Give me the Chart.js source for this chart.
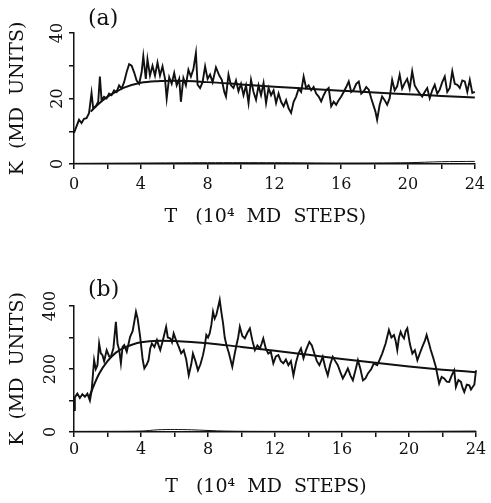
<!DOCTYPE html>
<html><head><meta charset="utf-8">
<script src="https://cdn.jsdelivr.net/npm/chart.js@4"></script>
<style>
html,body{margin:0;padding:0;background:#fff;}
#wrap{position:relative;width:491px;height:503px;background:#fff;}
canvas{position:absolute;left:0;}
</style></head><body>
<div id="wrap">
<canvas id="ca" width="491" height="250" style="top:0px"></canvas>
<canvas id="cb" width="491" height="253" style="top:250px"></canvas>
</div>
<script>
// ---------- Panel (a) ----------
const tA = [0,0.15,0.3,0.45,0.6,0.75,0.9,1.05,1.15,1.3,
  1.45,1.55,1.65,1.8,1.95,2.1,2.25,2.4,2.55,2.7,
  2.85,3.0,3.15,3.3,3.45,3.6,3.75,3.9,4.05,4.15,
  4.3,4.4,4.55,4.7,4.85,5.0,5.15,5.3,5.45,5.55,
  5.7,5.85,6.0,6.15,6.3,6.4,6.55,6.7,6.85,7.0,
  7.15,7.3,7.4,7.55,7.7,7.85,8.0,8.15,8.3,8.5,
  8.7,8.85,9.0,9.1,9.25,9.4,9.55,9.7,9.85,10.0,
  10.15,10.3,10.45,10.6,10.75,10.9,11.05,11.2,11.35,11.5,
  11.65,11.8,11.95,12.1,12.25,12.4,12.55,12.7,12.85,13.0,
  13.15,13.3,13.45,13.6,13.75,13.9,14.05,14.2,14.35,14.5,
  14.65,14.8,14.95,15.1,15.25,15.4,15.55,15.7,15.85,16.0,
  16.15,16.3,16.45,16.6,16.75,16.9,17.05,17.2,17.35,17.5,
  17.65,17.8,17.95,18.05,18.15,18.3,18.45,18.6,18.75,18.9,
  19.05,19.2,19.35,19.5,19.65,19.8,19.95,20.1,20.25,20.4,
  20.55,20.7,20.85,21.0,21.15,21.3,21.45,21.6,21.75,21.9,
  22.05,22.2,22.35,22.5,22.65,22.8,22.95,23.1,23.25,23.4,
  23.55,23.7,23.85,24.0];
const kA = [9.5,11.5,13.5,12.5,13.8,14,15.5,21.7,17,17.6,
  19,26.7,19.5,20.5,20,21.5,21,22.5,22,24,
  23,25,28,30.5,30,28,25.5,24.5,28,32.9,
  26,32,27,30,27,31,27,29.8,26,20,
  26.5,24.5,27.8,24,26,19,26.2,24,28.8,26.7,
  29,33.9,24.2,23.2,25,29.8,26,27.3,25,29.5,
  27,25.7,22,20.6,27.3,24,23.2,25.5,22.2,24.5,
  21,24,18.6,25.7,22,19.6,24,21,24.7,18.6,
  23.2,21,22.5,18.6,21.5,19,17.6,19.5,17,15.6,
  19,20.6,23,22,26.7,23.2,24,22.5,23.5,21.5,
  20.6,19.1,21,22.5,23.2,17.6,19,18.1,19.5,20.6,
  22,23.5,25.2,22,22.7,24.5,25.2,21.5,22.2,23.5,
  22.7,20,17.6,16,13.5,18,20.6,19.5,18.1,20.1,
  25.7,22.5,23.7,27.3,23,24.7,26,23,28.3,24,
  22.7,21.5,20.6,22,23.2,20.1,22.5,24.2,21.5,22.7,
  25,26.7,22,23.2,28.3,24.5,24.2,23.2,25.5,25.2,
  22,25.7,21.7,22];
const tSmoothA = [1,1.5,2,2.5,3,4,5,6,8,10,12,14,16,18,20,22,24];
const kSmoothA = [16,18.5,20.5,22,23.3,24.8,25.3,25.4,25,24.3,23.6,23,22.4,21.8,21.3,20.8,20.3];
const tLowA = [0,4,8,12,16,20,22,24];
const kLowA = [0.2,0.3,0.4,0.4,0.3,0.4,0.7,0.8];
const yLabelsA = [0,20,40];

// ---------- Panel (b) ----------
const tB = [0,0.05,0.2,0.35,0.5,0.65,0.8,0.95,1.05,1.2,
  1.3,1.4,1.5,1.6,1.7,1.8,1.95,2.1,2.2,2.35,
  2.5,2.6,2.7,2.8,2.9,3.0,3.15,3.35,3.5,3.6,
  3.7,3.8,3.95,4.1,4.2,4.35,4.45,4.55,4.65,4.8,
  4.95,5.05,5.15,5.3,5.5,5.6,5.75,5.85,5.95,6.1,
  6.25,6.4,6.55,6.7,6.85,7.0,7.1,7.25,7.4,7.55,
  7.7,7.8,7.9,8.0,8.1,8.2,8.3,8.4,8.5,8.6,
  8.7,8.8,8.9,9.0,9.1,9.25,9.45,9.6,9.7,9.8,
  9.9,10.05,10.2,10.35,10.5,10.65,10.8,10.95,11.1,11.2,
  11.3,11.45,11.6,11.75,11.9,12.05,12.2,12.35,12.5,12.65,
  12.8,12.95,13.1,13.25,13.4,13.55,13.7,13.85,14.05,14.2,
  14.35,14.5,14.65,14.75,14.85,15.0,15.15,15.3,15.45,15.6,
  15.75,15.9,16.05,16.2,16.35,16.5,16.65,16.8,16.95,17.1,
  17.25,17.4,17.55,17.75,17.9,18.1,18.25,18.4,18.6,18.8,
  18.95,19.1,19.2,19.3,19.4,19.5,19.6,19.7,19.8,19.9,
  20.05,20.2,20.35,20.5,20.65,20.8,20.95,21.05,21.2,21.3,
  21.45,21.6,21.7,21.8,21.95,22.1,22.25,22.4,22.55,22.7,
  22.8,22.95,23.1,23.2,23.3,23.45,23.6,23.7,23.8,23.9,
  24.0];
const kB = [70,110,122,108,120,112,122,100,130,228,
  200,212,281,250,244,225,260,240,239,265,
  350,280,260,218,270,276,255,302,320,350,
  382,360,302,230,202,215,228,265,281,270,
  292,275,260,290,334,300,297,285,313,290,
  271,250,260,230,180,215,249,225,196,215,
  244,270,308,300,313,340,382,360,372,395,
  419,380,345,300,276,250,207,250,276,300,
  334,305,297,315,329,290,260,275,265,280,
  297,265,249,255,218,240,244,225,218,230,
  212,225,180,220,249,265,234,260,286,275,
  249,225,212,225,239,205,180,215,239,225,
  212,190,170,185,202,180,164,195,228,200,
  164,170,186,200,218,212,230,249,280,324,
  300,308,290,260,300,318,305,297,320,329,
  280,249,260,228,250,271,290,308,280,260,
  235,207,180,154,175,170,160,159,180,196,
  143,165,159,140,127,150,148,135,143,150,
  196];
const tSmoothB = [0.9,1.2,1.5,2,2.5,3,3.5,4,5,6,8,10,12,14,16,18,20,22,24];
const kSmoothB = [110,150,185,225,252,268,278,285,290,289,282,270,258,245,232,220,208,198,190];
const tLowB = [0,4,5,6,7,9,12,16,20,24];
const kLowB = [2,3,7,8,7,3,2,2,2,3];
const yLabelsB = [0,200,400];

const xMin = 0, xMax = 24, xStep = 2, xLabelEvery = 4;
const INK = '#111';
const SERIF = '"DejaVu Serif", "Liberation Serif", serif';

function pts(xs, ys){ return xs.map((x,i)=>({x:x, y:ys[i]})); }

const panelPlugin = {
  id:'panel',
  afterDraw(chart, args, o){
    const ctx = chart.ctx, ys = chart.scales.y;
    ctx.save();
    ctx.fillStyle = INK;
    ctx.font = '16px ' + SERIF;
    ctx.textAlign = 'center'; ctx.textBaseline = 'middle';
    o.labels.forEach(v=>{
      const py = ys.getPixelForValue(v);
      ctx.save(); ctx.translate(o.labelX, py); ctx.rotate(-Math.PI/2);
      ctx.fillText(String(v), 0, 0); ctx.restore();
    });
    ctx.font = '22px ' + SERIF;
    ctx.textAlign = 'left'; ctx.textBaseline = 'alphabetic';
    ctx.fillText(o.letter, o.letterX, o.letterY);
    ctx.restore();
  }
};

function makeChart(id, cfg){
  return new Chart(document.getElementById(id), {
    type:'line',
    data:{datasets:[
      {data:pts(cfg.t, cfg.k), borderColor:INK, borderWidth:1.9, pointRadius:0, tension:0, clip:false},
      {data:pts(cfg.ts, cfg.ks), borderColor:INK, borderWidth:2, pointRadius:0, cubicInterpolationMode:'monotone', clip:false},
      {data:pts(cfg.tl, cfg.kl), borderColor:INK, borderWidth:1, pointRadius:0, tension:0.3, clip:false}
    ]},
    options:{
      responsive:false, animation:false, devicePixelRatio:1,
      layout:{padding:{top:cfg.padTop, right:15, left:7, bottom:cfg.padBottom}},
      plugins:{legend:{display:false}, tooltip:{enabled:false},
        panel:{labels:cfg.labels, labelX:cfg.labelX, letter:cfg.letter, letterX:88, letterY:cfg.letterY}},
      scales:{
        x:{type:'linear', min:xMin, max:xMax,
          ticks:{stepSize:xStep, autoSkip:false, maxRotation:0, padding:cfg.xPad, color:INK,
            font:{family:SERIF, size:16},
            callback:v=> (v % xLabelEvery === 0) ? String(v) : ''},
          grid:{drawOnChartArea:false, drawTicks:true, tickLength:5, color:INK, lineWidth:1.5},
          border:{display:true, color:INK, width:1.5},
          title:{display:true, text:'T   (10⁴  MD  STEPS)   ', color:INK, padding:0,
            font:{family:SERIF, size:19}},
          afterFit(s){ s.height = cfg.xH; }
        },
        y:{type:'linear', min:0, max:cfg.yMax,
          ticks:{stepSize:cfg.yStep, display:false},
          grid:{drawOnChartArea:false, drawTicks:true, tickLength:5, color:INK, lineWidth:1.5},
          border:{display:true, color:INK, width:1.5},
          title:{display:true, text:'K  (MD  UNITS)', color:INK, padding:0,
            font:{family:SERIF, size:19}},
          afterFit(s){ s.width = 67; }
        }
      }
    },
    plugins:[panelPlugin]
  });
}

makeChart('ca', {t:tA, k:kA, ts:tSmoothA, ks:kSmoothA, tl:tLowA, kl:kLowA, yMax:40, yStep:10,
  labels:yLabelsA, labelX:58, letter:'(a)', letterY:25,
  padTop:33, padBottom:22, xH:64, xPad:6});
makeChart('cb', {t:tB, k:kB, ts:tSmoothB, ks:kSmoothB, tl:tLowB, kl:kLowB, yMax:400, yStep:100,
  labels:yLabelsB, labelX:51, letter:'(b)', letterY:46,
  padTop:56, padBottom:5, xH:66, xPad:3});
</script>
</body></html>
